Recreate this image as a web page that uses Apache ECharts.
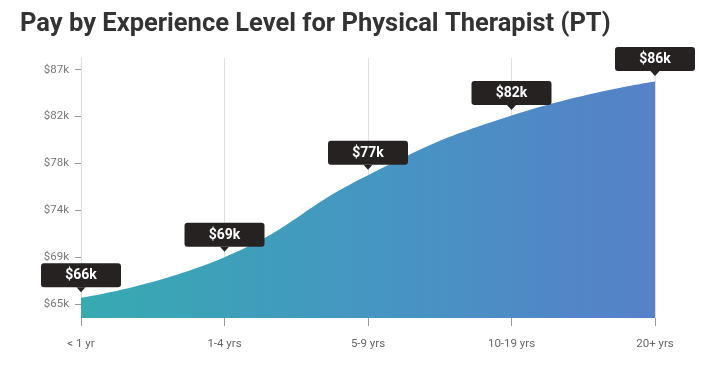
<!DOCTYPE html>
<html>
<head>
<meta charset="utf-8">
<script src="https://cdn.jsdelivr.net/npm/echarts@6/dist/echarts.min.js"></script>
<style>html,body{margin:0;padding:0;background:#fff;}#c{width:720px;height:371px;}</style>
</head>
<body>
<div id="c"></div>
<script>
const categories = ['< 1 yr', '1-4 yrs', '5-9 yrs', '10-19 yrs', '20+ yrs'];
const payValues = [65.6, 69.4, 77.1, 82.7, 85.9];
const payLabels = ['$66k', '$69k', '$77k', '$82k', '$86k'];
const yTickValues = [65, 69.4, 73.8, 78.2, 82.6, 87];
const yTickLabels = ['$65k', '$69k', '$74k', '$78k', '$82k', '$87k'];

const chart = echarts.init(document.getElementById('c'));
chart.setOption({
  animation: false,
  title: {
    text: 'Pay by Experience Level for Physical Therapist (PT)',
    left: 15, top: 7,
    textStyle: { fontFamily: 'Roboto', fontSize: 25.5, fontWeight: 'bold', color: '#333' }
  },
  grid: { left: 81, right: 65, top: 58, bottom: 53 },
  xAxis: {
    type: 'category',
    data: categories,
    boundaryGap: false,
    axisLine: { show: false },
    axisTick: { show: true, length: 8, lineStyle: { color: '#999' } },
    splitLine: { show: true, lineStyle: { color: '#dedede', width: 1 } },
    axisLabel: { margin: 20, fontFamily: 'Roboto', fontSize: 11.5, color: '#666' }
  },
  yAxis: {
    type: 'value',
    min: 63.7, max: 88.1,
    axisLine: { show: true, lineStyle: { color: '#dedede' } },
    axisTick: { show: true, length: 6, customValues: yTickValues, lineStyle: { color: '#999' } },
    splitLine: { show: false },
    axisLabel: {
      customValues: yTickValues,
      margin: 12,
      fontFamily: 'Roboto', fontSize: 11.5, color: '#777',
      formatter: function (v) {
        const i = yTickValues.findIndex(t => Math.abs(t - v) < 1e-6);
        return i >= 0 ? yTickLabels[i] : '';
      }
    }
  },
  series: [
    {
      type: 'line',
      data: payValues,
      smooth: 0.5,
      showSymbol: false,
      lineStyle: { width: 0 },
      areaStyle: {
        opacity: 1,
        color: new echarts.graphic.LinearGradient(0, 0, 1, 0, [
          { offset: 0, color: '#37aab1' },
          { offset: 0.5, color: '#4596c2' },
          { offset: 1, color: '#5681c8' }
        ])
      },
      z: 2
    },
    {
      type: 'scatter',
      data: payValues,
      symbol: 'triangle',
      symbolRotate: 180,
      symbolSize: [9, 5],
      symbolOffset: [0, -8],
      itemStyle: { color: '#262222', opacity: 1 },
      emphasis: { disabled: true },
      label: {
        show: true,
        position: 'top',
        distance: 0,
        formatter: function (p) { return payLabels[p.dataIndex]; },
        backgroundColor: '#262222',
        opacity: 1,
        color: '#fff',
        fontFamily: 'Roboto',
        fontSize: 14,
        fontWeight: 'bold',
        lineHeight: 15,
        width: 38,
        align: 'center',
        padding: [5, 21, 4, 21],
        borderRadius: 3
      },
      z: 5
    }
  ]
});
</script>
</body>
</html>
